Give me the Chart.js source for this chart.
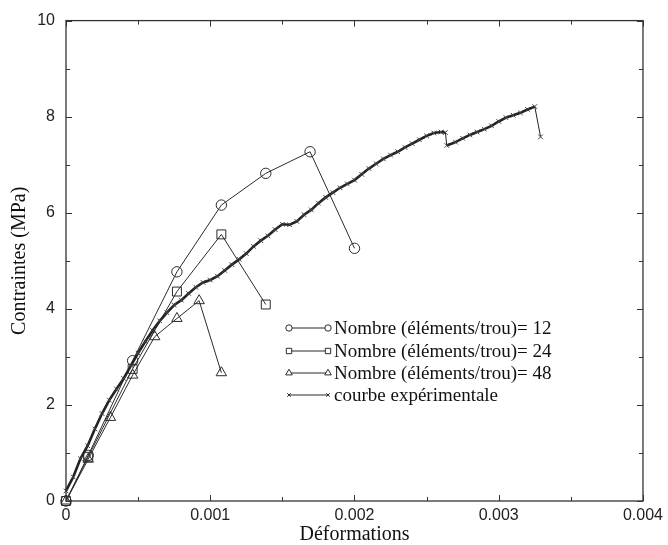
<!DOCTYPE html>
<html lang="fr">

<head>
  <meta name="viewport" content="width=device-width, initial-scale=1.0" />
  <title>Contraintes - Déformations</title>
  <script src="https://cdn.jsdelivr.net/npm/chart.js"></script>
  <style>
    html, body { margin: 0; padding: 0; background: #fff; }
    #wrap { width: 668px; height: 545px; }
  </style>
</head>

<body>
  <div id="wrap"><canvas id="stressChart" width="668" height="545"></canvas></div>

  <script>
    // numerical results, one array per mesh density
    const strain12 = [0, 0.000154, 0.000462, 0.000769, 0.001077, 0.001385, 0.001692, 0.002];
    const stress12 = [0, 0.95, 2.92, 4.77, 6.16, 6.82, 7.27, 5.26];

    const strain24 = [0, 0.000154, 0.000462, 0.000769, 0.001077, 0.001385];
    const stress24 = [0, 0.92, 2.75, 4.36, 5.55, 4.09];

    const strain48 = [0, 0.000154, 0.000308, 0.000462, 0.000615, 0.000769, 0.000923, 0.001077];
    const stress48 = [0, 0.87, 1.74, 2.62, 3.42, 3.80, 4.17, 2.67];

    // measured curve
    const strainExp = [
      0, 0.00005, 0.0001, 0.00015, 0.0002, 0.00025, 0.0003, 0.00035, 0.0004, 0.00045,
      0.0005, 0.00055, 0.0006, 0.00065, 0.0007, 0.00075, 0.0008, 0.00085, 0.0009, 0.00095,
      0.001, 0.00105, 0.0011, 0.00115, 0.0012, 0.00125, 0.0013, 0.00135, 0.0014, 0.00145,
      0.0015, 0.00155, 0.0016, 0.00165, 0.0017, 0.00175, 0.0018, 0.00185, 0.0019, 0.00195,
      0.002, 0.00205, 0.0021, 0.00215, 0.0022, 0.00225, 0.0023, 0.00235, 0.0024, 0.00245,
      0.0025, 0.00255, 0.0026, 0.00263, 0.00264, 0.0027, 0.00275, 0.0028, 0.00285, 0.0029,
      0.00295, 0.003, 0.00305, 0.0031, 0.00315, 0.0032, 0.00325, 0.00329
    ];
    const stressExp = [
      0.21, 0.50, 0.88, 1.15, 1.50, 1.82, 2.10, 2.33, 2.55, 2.82,
      3.08, 3.32, 3.55, 3.75, 3.92, 4.08, 4.18, 4.32, 4.45, 4.55,
      4.60, 4.68, 4.80, 4.92, 5.03, 5.15, 5.30, 5.42, 5.52, 5.65,
      5.76, 5.75, 5.82, 5.96, 6.06, 6.20, 6.32, 6.42, 6.52, 6.60,
      6.68, 6.80, 6.92, 7.02, 7.12, 7.20, 7.27, 7.36, 7.44, 7.52,
      7.60, 7.66, 7.68, 7.67, 7.40, 7.47, 7.55, 7.62, 7.68, 7.74,
      7.81, 7.90, 7.98, 8.03, 8.08, 8.15, 8.21, 7.58
    ];

    const labels = [
      'Nombre (éléments/trou)= 12',
      'Nombre (éléments/trou)= 24',
      'Nombre (éléments/trou)= 48',
      'courbe expérimentale'
    ];

    const xTicks = [0, 0.001, 0.002, 0.003, 0.004];
    const yTicks = [0, 2, 4, 6, 8, 10];

    const ink = '#2b2b2b';
    const serif = '"Liberation Serif", "Times New Roman", serif';
    const sans = '"Liberation Sans", Arial, sans-serif';

    function pairs(xs, ys) {
      return xs.map((x, i) => ({ x: x, y: ys[i] }));
    }

    // small symbols used in the key, same shapes as the plotted series
    const keyStyles = [
      { style: 'circle', radius: 3.2 },
      { style: 'rect', radius: 3.8 },
      { style: 'triangle', radius: 3.8 },
      { style: 'crossRot', radius: 2.5 }
    ];

    const framePlugin = {
      id: 'frame',
      afterDraw(chart) {
        const ctx = chart.ctx;
        const a = chart.chartArea;
        const xs = chart.scales.x;
        const ys = chart.scales.y;
        ctx.save();
        ctx.strokeStyle = '#333';
        ctx.lineWidth = 1.3;
        ctx.strokeRect(a.left, a.top, a.right - a.left, a.bottom - a.top);

        // inward ticks on all four sides
        ctx.lineWidth = 1;
        ctx.beginPath();
        xs.ticks.forEach(t => {
          const px = Math.round(xs.getPixelForValue(t.value)) + 0.5;
          const len = xTicks.some(v => Math.abs(v - t.value) < 1e-9) ? 6 : 4;
          ctx.moveTo(px, a.bottom); ctx.lineTo(px, a.bottom - len);
          ctx.moveTo(px, a.top); ctx.lineTo(px, a.top + len);
        });
        ys.ticks.forEach(t => {
          const py = Math.round(ys.getPixelForValue(t.value)) + 0.5;
          const len = yTicks.includes(t.value) ? 6 : 4;
          ctx.moveTo(a.left, py); ctx.lineTo(a.left + len, py);
          ctx.moveTo(a.right, py); ctx.lineTo(a.right - len, py);
        });
        ctx.stroke();

        // key
        const rowsY = [328, 351, 373, 395];
        const x0 = 289, x1 = 328;
        ctx.font = '19px ' + serif;
        ctx.textBaseline = 'middle';
        rowsY.forEach((y, i) => {
          ctx.strokeStyle = ink;
          ctx.lineWidth = 1;
          ctx.beginPath();
          ctx.moveTo(x0, y); ctx.lineTo(x1, y);
          ctx.stroke();
          const opts = { pointStyle: keyStyles[i].style, radius: keyStyles[i].radius, rotation: 0, borderWidth: 1 };
          ctx.strokeStyle = ink;
          ctx.fillStyle = '#fff';
          Chart.helpers.drawPoint(ctx, opts, x0, y);
          Chart.helpers.drawPoint(ctx, opts, x1, y);
          ctx.fillStyle = '#111';
          ctx.fillText(labels[i], 334, y + 1);
        });
        ctx.restore();
      }
    };

    const ctx = document.getElementById('stressChart').getContext('2d');
    new Chart(ctx, {
      type: 'scatter',
      data: {
        datasets: [
          {
            label: labels[3],
            data: pairs(strainExp, stressExp),
            showLine: true,
            borderColor: '#222',
            borderWidth: 2.6,
            // sudden load drops are single thin strokes
            segment: {
              borderWidth: s => (s.p1.parsed.y < s.p0.parsed.y - 0.1 ? 1 : 2.6)
            },
            pointStyle: 'crossRot',
            pointRadius: 3.3,
            pointBorderColor: '#444',
            pointBorderWidth: 1,
            clip: false,
            order: 0
          },
          {
            label: labels[2],
            data: pairs(strain48, stress48),
            showLine: true,
            borderColor: ink,
            borderWidth: 1,
            pointStyle: 'triangle',
            pointRadius: 6,
            pointBackgroundColor: 'rgba(0,0,0,0)',
            pointBorderColor: ink,
            pointBorderWidth: 1,
            clip: false,
            order: 1
          },
          {
            label: labels[1],
            data: pairs(strain24, stress24),
            showLine: true,
            borderColor: ink,
            borderWidth: 1,
            pointStyle: 'rect',
            pointRadius: 6.3,
            pointBackgroundColor: 'rgba(0,0,0,0)',
            pointBorderColor: ink,
            pointBorderWidth: 1,
            clip: false,
            order: 2
          },
          {
            label: labels[0],
            data: pairs(strain12, stress12),
            showLine: true,
            borderColor: ink,
            borderWidth: 1,
            pointStyle: 'circle',
            pointRadius: 5.2,
            pointBackgroundColor: 'rgba(0,0,0,0)',
            pointBorderColor: ink,
            pointBorderWidth: 1,
            clip: false,
            order: 3
          }
        ]
      },
      options: {
        responsive: false,
        animation: false,
        layout: { padding: { top: 17, right: 22, bottom: 0, left: 0 } },
        plugins: {
          legend: { display: false },
          tooltip: { enabled: false }
        },
        scales: {
          x: {
            type: 'linear',
            min: 0,
            max: 0.004,
            grid: { display: false, drawTicks: false },
            border: { display: false },
            afterFit: s => { s.height = 44; },
            ticks: {
              stepSize: 0.0005,
              autoSkip: false,
              maxRotation: 0,
              padding: 5,
              color: '#222',
              font: { family: sans, size: 16 },
              callback: v => {
                const hit = xTicks.find(t => Math.abs(t - v) < 1e-9);
                if (hit === undefined) return '';
                return hit === 0 ? '0' : hit.toFixed(3);
              }
            },
            title: {
              display: true,
              text: 'Déformations',
              color: '#111',
              font: { family: serif, size: 20, lineHeight: 1 },
              padding: { top: 0, bottom: 0 }
            }
          },
          y: {
            type: 'linear',
            min: 0,
            max: 10,
            grid: { display: false, drawTicks: false },
            border: { display: false },
            afterFit: s => { s.width = 66; },
            ticks: {
              stepSize: 1,
              autoSkip: false,
              padding: 11,
              color: '#222',
              font: { family: sans, size: 16 },
              callback: v => yTicks.includes(v) ? String(v) : ''
            },
            title: {
              display: true,
              text: 'Contraintes (MPa)',
              color: '#111',
              font: { family: serif, size: 20 },
              padding: { top: 8, bottom: 0 }
            }
          }
        }
      },
      plugins: [framePlugin]
    });
  </script>
</body>

</html>
